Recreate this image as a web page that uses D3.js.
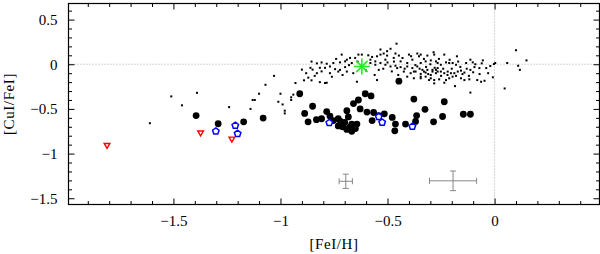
<!DOCTYPE html>
<html>
<head>
<meta charset="utf-8">
<script src="https://cdn.jsdelivr.net/npm/d3@7"></script>
<style>
  body { margin: 0; background: #fff; }
  svg { display: block; }
</style>
</head>
<body>
<div id="chart"></div>
<script>
// tick labels
var xMajorTicks = [-1.5, -1, -0.5, 0];
var yMajorTicks = [-1.5, -1, -0.5, 0, 0.5];

// field stars (small dots) [FeI/H], [CuI/FeI]
var fieldStars = [
    [-1.61, -0.66], [-1.51, -0.36], [-1.46, -0.46], [-1.39, -0.32], [-1.24, -0.48],
    [-1.14, -0.50], [-1.13, -0.40], [-1.12, -0.40], [-1.10, -0.33], [-1.07, -0.23],
    [-1.03, -0.13], [-1.01, -0.42], [-1.00, -0.33], [-0.99, -0.45], [-0.98, -0.55],
    [-0.98, -0.52], [-0.95, -0.37], [-0.95, -0.40], [-0.94, -0.34], [-0.93, -0.21],
    [-0.88, -0.10], [-0.89, -0.18], [-0.86, -0.04], [-0.855, 0.03], [-0.855, -0.18],
    [-0.85, -0.06], [-0.83, 0.01], [-0.83, -0.10], [-0.816, -0.04], [-0.816, -0.20],
    [-0.808, 0.02], [-0.808, -0.08], [-0.792, -0.04], [-0.792, -0.21], [-0.784, 0.006],
    [-0.784, -0.207], [-0.769, -0.025], [-0.769, -0.10], [-0.753, 0.014], [-0.745, -0.055],
    [-0.73, -0.082], [-0.722, 0.021], [-0.722, -0.063], [-0.714, 0.108], [-0.698, 0.032],
    [-0.698, -0.032], [-0.69, -0.082], [-0.69, 0.051], [-0.675, 0.071], [-0.667, 0.014],
    [-0.651, 0.071], [-0.643, -0.196], [-0.636, 0.108], [-0.62, 0.108], [-0.58, 0.014],
    [-0.58, 0.051], [-0.572, 0.082], [-0.557, 0.032], [-0.557, -0.006], [-0.549, 0.089],
    [-0.549, -0.177], [-0.541, -0.063], [-0.533, 0.165], [-0.533, 0.014], [-0.533, 0.108],
    [-0.518, 0.12], [-0.51, -0.006], [-0.51, 0.051], [-0.502, 0.097], [-0.502, 0.146],
    [-0.486, 0.173], [-0.486, -0.025], [-0.471, 0.071], [-0.463, 0.12], [-0.463, -0.017],
    [-0.458, 0.23], [-0.455, -0.043], [-0.447, 0.097], [-0.439, -0.032], [-0.439, 0.032],
    [-0.424, -0.082], [-0.408, -0.025], [-0.408, 0.014], [-0.408, -0.139], [-0.40, 0.108],
    [-0.392, -0.10], [-0.384, -0.043], [-0.384, 0.051], [-0.377, -0.082], [-0.377, -0.157],
    [-0.369, -0.082], [-0.361, 0.12], [-0.361, -0.025], [-0.353, 0.089], [-0.345, -0.108],
    [-0.345, -0.157], [-0.337, -0.063], [-0.322, -0.093], [-0.306, -0.177], [-0.298, -0.12],
    [-0.29, -0.063], [-0.274, -0.10], [-0.266, -0.082],
    [-0.345, 0.108], [-0.314, 0.097], [-0.285, 0.134], [-0.282, 0.108], [-0.235, 0.108],
    [-0.176, 0.089], [-0.345, 0.014], [-0.322, 0.032], [-0.298, 0.043], [-0.274, 0.032],
    [-0.266, 0.014], [-0.251, -0.006], [-0.227, 0.021], [-0.212, 0.014], [-0.196, 0.014],
    [-0.18, -0.006], [-0.133, 0.014], [-0.113, 0.051], [-0.102, 0.021], [-0.055, 0.043],
    [-0.33, -0.082], [-0.314, -0.063], [-0.29, -0.082], [-0.274, -0.063], [-0.266, -0.043],
    [-0.251, -0.082], [-0.235, -0.10], [-0.219, -0.082], [-0.204, -0.10], [-0.188, -0.10],
    [-0.172, -0.082], [-0.157, -0.071], [-0.141, -0.093], [-0.113, -0.063], [-0.094, -0.032],
    [-0.071, -0.043], [-0.039, -0.043], [-0.345, -0.139], [-0.322, -0.139], [-0.298, -0.157],
    [-0.282, -0.177], [-0.259, -0.169], [-0.227, -0.177], [-0.212, -0.157], [-0.196, -0.139],
    [-0.157, -0.157], [-0.141, -0.177], [-0.118, -0.169], [-0.081, -0.177], [-0.063, -0.196],
    [-0.047, -0.185], [-0.282, -0.214], [-0.235, -0.207], [-0.185, -0.245], [-0.113, -0.317],
    [-0.003, 0.002], [0.003, 0.014], [-0.008, -0.146], [0.059, 0.014], [0.10, 0.157],
    [0.149, 0.043], [0.11, -0.017], [0.118, -0.063], [0.047, -0.271],
    [-0.90, -0.06], [-0.87, -0.15], [-0.84, -0.13], [-0.76, -0.14], [-0.74, 0.06],
    [-0.71, -0.12], [-0.68, -0.01], [-0.66, -0.10], [-0.64, 0.03], [-0.60, -0.07],
    [-0.59, 0.10], [-0.56, -0.12], [-0.52, -0.05], [-0.50, 0.02], [-0.48, -0.08],
    [-0.47, 0.03], [-0.45, -0.12], [-0.43, 0.07], [-0.42, -0.05], [-0.39, 0.09],
    [-0.37, -0.01], [-0.35, -0.05], [-0.33, 0.06], [-0.32, -0.03], [-0.31, -0.11],
    [-0.30, 0.00], [-0.28, -0.04], [-0.26, 0.06], [-0.25, -0.13], [-0.24, -0.05],
    [-0.22, -0.12], [-0.21, 0.05], [-0.20, -0.05], [-0.18, -0.13], [-0.17, 0.03],
    [-0.16, -0.03], [-0.15, -0.11], [-0.13, -0.05], [-0.12, -0.13], [-0.10, -0.09],
    [-0.09, 0.00], [-0.07, -0.11], [-0.06, 0.01], [-0.03, -0.10], [-0.02, -0.02]
];

// cluster stars (large dots)
var clusterStars = [
    [-1.394, -0.575], [-1.291, -0.666], [-1.172, -0.644], [-1.081, -0.602], [-0.91, -0.33],
    [-0.85, -0.47], [-0.887, -0.55], [-0.871, -0.645], [-0.832, -0.62], [-0.808, -0.61],
    [-0.784, -0.53], [-0.769, -0.58], [-0.753, -0.63], [-0.73, -0.61], [-0.73, -0.69],
    [-0.706, -0.67], [-0.69, -0.52], [-0.683, -0.59], [-0.69, -0.73], [-0.667, -0.75],
    [-0.667, -0.67], [-0.643, -0.67], [-0.659, -0.44], [-0.636, -0.40], [-0.604, -0.33],
    [-0.577, -0.355], [-0.628, -0.50], [-0.596, -0.535], [-0.565, -0.54], [-0.572, -0.63],
    [-0.541, -0.575], [-0.515, -0.555], [-0.478, -0.595], [-0.463, -0.67], [-0.466, -0.745],
    [-0.416, -0.67], [-0.377, -0.39], [-0.364, -0.575], [-0.369, -0.64], [-0.325, -0.505],
    [-0.285, -0.644], [-0.235, -0.42], [-0.243, -0.585], [-0.447, -0.19], [-0.146, -0.56],
    [-0.113, -0.56], [-0.71, -0.70], [-0.70, -0.65], [-0.675, -0.70], [-0.65, -0.72],
    [-0.72, -0.64]
];

// pentagons (blue)
var pentagonStars = [
    [-1.302, -0.75], [-1.211, -0.686], [-1.20, -0.777], [-0.772, -0.655],
    [-0.541, -0.587], [-0.525, -0.651], [-0.384, -0.697]
];

// upper limits (red triangles)
var limitStars = [[-1.81, -0.905], [-1.373, -0.765], [-1.227, -0.834]];

// green asterisk
var greenStar = [[-0.62, -0.025]];

// typical errors: x, y, xerr, yerr
var errorBars = [[-0.695, -1.31, 0.031, 0.08], [-0.194, -1.305, 0.11, 0.11]];

var width = 600, height = 254;
var plot = { left: 68.5, right: 599.5, top: 3.5, bottom: 204.5 };
var serif = '"Liberation Serif", serif';

var svg = d3.select('#chart')
    .append('svg')
    .attr('width', width)
    .attr('height', height);

var xScale = d3.scaleLinear()
    .domain([-1.99, 0.49])
    .range([plot.left, plot.right]);

var yScale = d3.scaleLinear()
    .domain([-1.57, 0.68])
    .range([plot.bottom, plot.top]);

var fmt = d => String(d).replace('-', '\u2212');
var xMinor = d3.range(-19, 5).map(i => i / 10).filter(v => xMajorTicks.indexOf(v) < 0);
var yMinor = d3.range(-15, 7).map(i => i / 10).filter(v => yMajorTicks.indexOf(v) < 0);

// dotted zero lines
svg.append('line')
    .attr('x1', plot.left).attr('x2', plot.right)
    .attr('y1', yScale(0)).attr('y2', yScale(0))
    .attr('stroke', '#aaa').attr('stroke-dasharray', '1,2');
svg.append('line')
    .attr('x1', xScale(0)).attr('x2', xScale(0))
    .attr('y1', plot.top).attr('y2', plot.bottom)
    .attr('stroke', '#aaa').attr('stroke-dasharray', '1,2');

// error bars
var eb = svg.append('g').attr('stroke', '#888').attr('stroke-width', 1);
errorBars.forEach(function(e) {
    var cx = xScale(e[0]), cy = yScale(e[1]);
    var x0 = xScale(e[0] - e[2]), x1 = xScale(e[0] + e[2]);
    var y0 = yScale(e[1] + e[3]), y1 = yScale(e[1] - e[3]);
    eb.append('line').attr('x1', x0).attr('x2', x1).attr('y1', cy).attr('y2', cy);
    eb.append('line').attr('x1', cx).attr('x2', cx).attr('y1', y0).attr('y2', y1);
    eb.append('line').attr('x1', x0).attr('x2', x0).attr('y1', cy - 3).attr('y2', cy + 3);
    eb.append('line').attr('x1', x1).attr('x2', x1).attr('y1', cy - 3).attr('y2', cy + 3);
    eb.append('line').attr('x1', cx - 3).attr('x2', cx + 3).attr('y1', y0).attr('y2', y0);
    eb.append('line').attr('x1', cx - 3).attr('x2', cx + 3).attr('y1', y1).attr('y2', y1);
});

// small dots
svg.append('g').selectAll('rect')
    .data(fieldStars)
    .enter()
    .append('rect')
    .attr('x', d => xScale(d[0]) - 1)
    .attr('y', d => yScale(d[1]) - 1)
    .attr('width', 2)
    .attr('height', 2)
    .attr('fill', '#000');

// large dots
svg.append('g').selectAll('circle')
    .data(clusterStars)
    .enter()
    .append('circle')
    .attr('cx', d => xScale(d[0]))
    .attr('cy', d => yScale(d[1]))
    .attr('r', 3.4)
    .attr('fill', '#000');

// pentagons
function pentagon(r) {
    var pts = d3.range(5).map(function(i) {
        var a = -Math.PI / 2 + i * 2 * Math.PI / 5;
        return [r * Math.cos(a), r * Math.sin(a)];
    });
    return 'M' + pts.join('L') + 'Z';
}
svg.append('g').selectAll('path')
    .data(pentagonStars)
    .enter()
    .append('path')
    .attr('transform', d => 'translate(' + xScale(d[0]) + ',' + yScale(d[1]) + ')')
    .attr('d', pentagon(3.4))
    .attr('fill', '#fff')
    .attr('stroke', '#0000ff')
    .attr('stroke-width', 1.5);

// red triangles
svg.append('g').selectAll('path')
    .data(limitStars)
    .enter()
    .append('path')
    .attr('transform', d => 'translate(' + xScale(d[0]) + ',' + yScale(d[1]) + ') rotate(180)')
    .attr('d', d3.symbol().type(d3.symbolTriangle).size(14))
    .attr('fill', '#fff')
    .attr('stroke', '#ff0000')
    .attr('stroke-width', 1.4);

// green asterisk
var star = svg.append('g')
    .selectAll('g')
    .data(greenStar)
    .enter()
    .append('g')
    .attr('transform', d => 'translate(' + xScale(d[0]) + ',' + yScale(d[1]) + ')')
    .attr('stroke', '#22ee22')
    .attr('stroke-width', 1.6);
d3.range(4).forEach(function(i) {
    var a = i * Math.PI / 4;
    star.append('line')
        .attr('x1', -8 * Math.cos(a)).attr('y1', -8 * Math.sin(a))
        .attr('x2', 8 * Math.cos(a)).attr('y2', 8 * Math.sin(a));
});

// axes: major with labels, minor without
function addAxis(axis, transform, values, size, labels) {
    var g = svg.append('g')
        .attr('transform', transform)
        .call(axis.tickValues(values).tickSize(-size).tickPadding(labels ? 11 : 0)
            .tickFormat(labels ? fmt : ''));
    g.attr('font-family', serif).attr('font-size', 15);
    g.select('.domain').remove();
    g.selectAll('line').attr('stroke', '#000').attr('stroke-width', 1);
    g.selectAll('text').attr('fill', '#000');
    if (!labels) g.selectAll('text').remove();
}
var bottomT = 'translate(0,' + plot.bottom + ')', topT = 'translate(0,' + plot.top + ')';
var leftT = 'translate(' + plot.left + ',0)', rightT = 'translate(' + plot.right + ',0)';

addAxis(d3.axisBottom(xScale), bottomT, xMajorTicks, 6, true);
addAxis(d3.axisBottom(xScale), bottomT, xMinor, 3.5, false);
addAxis(d3.axisTop(xScale), topT, xMajorTicks, 6, false);
addAxis(d3.axisTop(xScale), topT, xMinor, 3.5, false);
addAxis(d3.axisLeft(yScale), leftT, yMajorTicks, 6, true);
addAxis(d3.axisLeft(yScale), leftT, yMinor, 3.5, false);
addAxis(d3.axisRight(yScale), rightT, yMajorTicks, 6, false);
addAxis(d3.axisRight(yScale), rightT, yMinor, 3.5, false);

// frame
svg.append('rect')
    .attr('x', plot.left)
    .attr('y', plot.top)
    .attr('width', plot.right - plot.left)
    .attr('height', plot.bottom - plot.top)
    .attr('fill', 'none')
    .attr('stroke', '#000')
    .attr('stroke-width', 1.2);

// axis titles
svg.append('text')
    .attr('transform', 'translate(14,' + ((plot.top + plot.bottom) / 2) + ') rotate(-90)')
    .attr('font-family', serif)
    .attr('font-size', 15)
    .attr('letter-spacing', 0.6)
    .style('text-anchor', 'middle')
    .text('[CuI/FeI]');

svg.append('text')
    .attr('x', (plot.left + plot.right) / 2)
    .attr('y', 249)
    .attr('font-family', serif)
    .attr('font-size', 15)
    .attr('letter-spacing', 0.6)
    .style('text-anchor', 'middle')
    .text('[FeI/H]');
</script>
</body>
</html>
